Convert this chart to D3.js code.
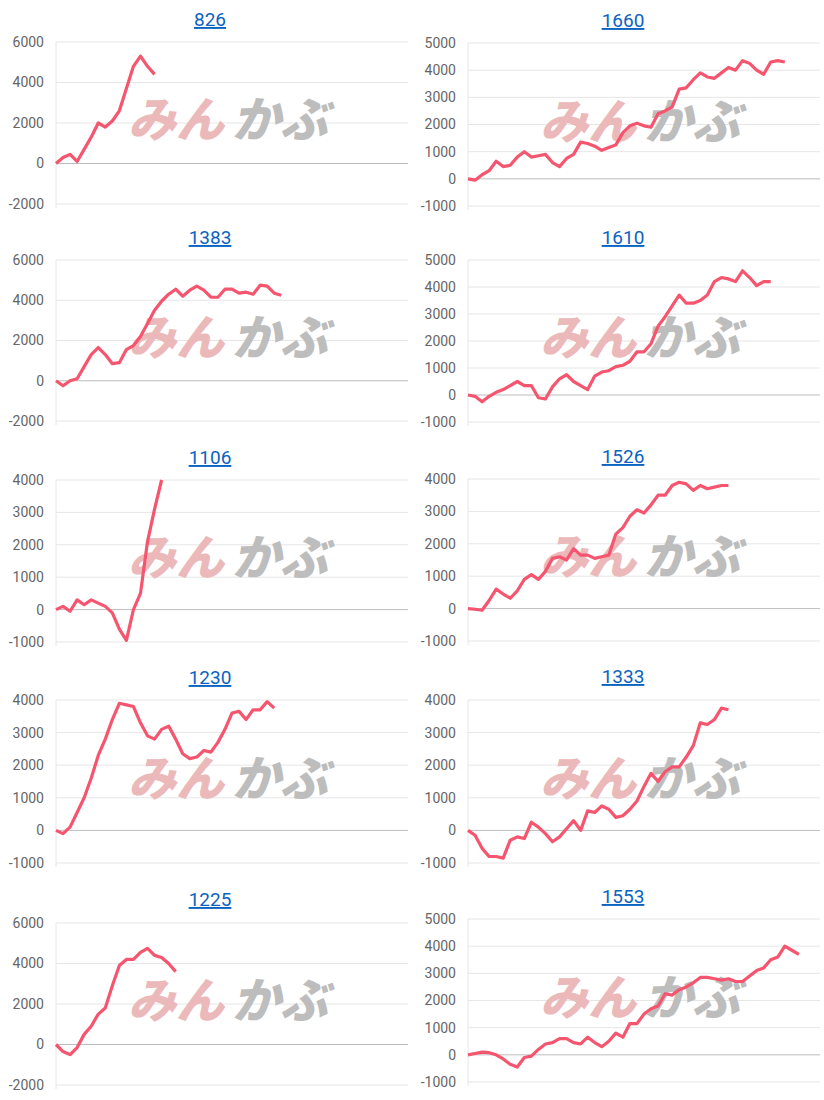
<!DOCTYPE html>
<html><head><meta charset="utf-8">
<script src="https://cdn.jsdelivr.net/npm/d3@7"></script>
<style>body{margin:0;background:#fff}</style></head>
<body><svg id="c" width="824" height="1100"></svg>
<script>
const titles = ["826","1660","1383","1610","1106","1526","1230","1333","1225","1553"];
const s826 = [0,300,450,100,700,1300,2000,1800,2100,2600,3700,4800,5300,4800,4400];
const s1660 = [0,-50,150,300,650,450,500,800,1000,800,850,900,600,450,750,900,1350,1300,1200,1050,1150,1250,1700,1950,2050,1950,1900,2400,2500,2650,3300,3350,3650,3900,3750,3700,3900,4100,4000,4350,4250,4000,3850,4300,4350,4300];
const s1383 = [0,-250,0,100,700,1300,1650,1300,850,900,1550,1750,2200,2850,3500,3950,4300,4550,4200,4500,4700,4500,4150,4150,4550,4550,4350,4400,4300,4750,4700,4350,4250];
const s1610 = [0,-50,-250,-50,100,200,350,500,350,350,-100,-150,300,600,750,500,350,200,700,850,900,1050,1100,1250,1600,1600,1900,2550,2900,3300,3700,3400,3400,3500,3700,4200,4350,4300,4200,4600,4350,4050,4200,4200];
const s1106 = [0,100,-50,300,150,300,200,100,-100,-600,-950,0,500,2100,3100,4000];
const s1526 = [0,-20,-50,250,600,450,320,550,900,1050,900,1150,1550,1600,1500,1850,1650,1650,1550,1600,1650,2300,2500,2850,3050,2950,3200,3500,3500,3800,3900,3850,3650,3800,3700,3750,3800,3800];
const s1230 = [0,-100,100,550,1000,1600,2300,2800,3400,3900,3850,3800,3300,2900,2800,3100,3200,2800,2350,2200,2250,2450,2400,2700,3100,3600,3650,3400,3700,3700,3950,3750];
const s1333 = [0,-150,-550,-800,-800,-850,-300,-200,-250,250,100,-100,-350,-200,50,300,0,600,550,750,650,400,450,650,900,1350,1750,1500,1800,1950,1950,2250,2600,3300,3250,3400,3750,3700];
const s1225 = [0,-350,-500,-150,500,900,1500,1800,2900,3900,4200,4200,4550,4750,4400,4300,4000,3600];
const s1553 = [0,50,100,80,0,-150,-350,-450,-100,-50,200,400,450,600,600,450,400,650,450,300,500,800,650,1150,1150,1500,1700,1800,2250,2200,2400,2500,2650,2850,2850,2800,2750,2800,2700,2700,2900,3100,3200,3500,3600,4000,3850,3700];
const seriesList = [s826,s1660,s1383,s1610,s1106,s1526,s1230,s1333,s1225,s1553];
const ticksA = [-2000,0,2000,4000,6000];
const ticksB = [-1000,0,1000,2000,3000,4000,5000];
const ticksC = [-1000,0,1000,2000,3000,4000];
const tickSets = [ticksA,ticksB,ticksA,ticksB,ticksC,ticksC,ticksC,ticksC,ticksA,ticksB];
const xCount = 50;

const svg = d3.select("#c");
const panelTops = [[42,43],[260,260],[480,479],[700,700],[923,919]];
const panelBottoms = [[204,206],[421,422],[642,641],[863,863],[1085,1082]];
const titleY = [26,27,244,244,464,463,684,683,906,903];

seriesList.forEach((data,k)=>{
  const col = k%2, row = Math.floor(k/2);
  const x0 = col? 468:56, x1 = col? 820:408;
  const ticks = tickSets[k];
  const y = d3.scaleLinear().domain([d3.min(ticks), d3.max(ticks)]).range([panelBottoms[row][col], panelTops[row][col]]);
  const x = d3.scaleLinear().domain([0,xCount]).range([x0,x1]);
  const g = svg.append("g");
  g.selectAll(".gl").data(ticks).join("line")
    .attr("x1",x0).attr("x2",x1).attr("y1",d=>y(d)).attr("y2",d=>y(d))
    .attr("stroke",d=>d===0?"#bdbdbd":"#e6e6e6").attr("stroke-width",1);
  g.append("line").attr("x1",x0).attr("x2",x0).attr("y1",y.range()[1]).attr("y2",y.range()[0]+4).attr("stroke","#e6e6e6");
  const ax = g.append("g").attr("transform",`translate(${x0-12},0)`)
    .call(d3.axisLeft(y).tickValues(ticks).tickSize(0).tickPadding(0).tickFormat(d=>String(d)));
  ax.select(".domain").remove();
  ax.selectAll("text").attr("fill","#666").style("font-family","Roboto, 'Noto Sans', sans-serif").style("font-size","14px");
  // watermark
  const cx = (x0+x1)/2 - 2, wy = (y.range()[0]+y.range()[1])/2 - 2;
  const wm = g.append("g").attr("transform",`translate(${cx},${wy}) skewX(-14)`);
  wm.append("text").text("みん").attr("text-anchor","end").attr("x",-2).attr("y",16)
    .attr("fill","#ebb9b9").style("font-family","'Noto Sans CJK JP'").style("font-weight","900").style("font-size","48px").attr("textLength",96).attr("lengthAdjust","spacingAndGlyphs");
  wm.append("text").text("かぶ").attr("x",6).attr("y",16)
    .attr("fill","#bdbdbd").style("font-family","'Noto Sans CJK JP'").style("font-weight","900").style("font-size","48px").attr("textLength",96).attr("lengthAdjust","spacingAndGlyphs");
  const line = d3.line().x((d,i)=>x(i)).y(d=>y(d));
  g.append("path").datum(data).attr("d",line).attr("fill","none")
    .attr("stroke","#f5556e").attr("stroke-width",3.2).attr("stroke-linejoin","round");
  g.append("text").text(titles[k]).attr("x",col?623:210).attr("y",titleY[k])
    .attr("text-anchor","middle").attr("fill","#0b63c1")
    .style("font-family","Roboto, 'Noto Sans', sans-serif").style("font-size","19px")
    .style("text-decoration","underline");
});
</script></body></html>
